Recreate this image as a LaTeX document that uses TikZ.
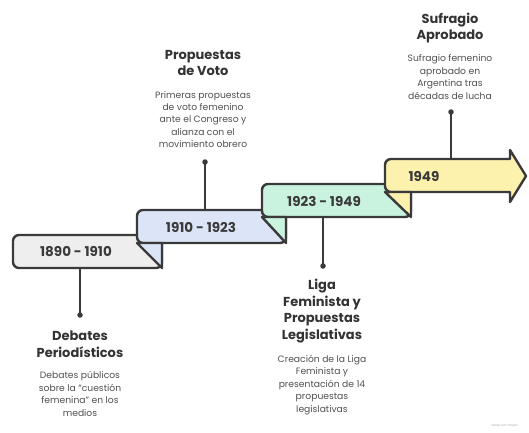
\documentclass[tikz,border=0pt]{standalone}
\usepackage{fontspec}
\setmainfont{Poppins}
\definecolor{ink}{HTML}{3A3A3A}
\definecolor{gfill}{HTML}{EEEEEE}
\definecolor{bfill}{HTML}{DCE5F8}
\definecolor{mfill}{HTML}{C9F3DF}
\definecolor{yfill}{HTML}{FDF1AE}
\definecolor{ttl}{HTML}{333333}
\definecolor{dsc}{HTML}{505050}
\begin{document}
\begin{tikzpicture}[x=1pt,y=-1pt,line join=round,
  boxline/.style={draw=ink,line width=2.4pt},
  stem/.style={draw=ink,line width=2.2pt},
  dot/.style={circle,fill=ink,inner sep=0pt,minimum size=5.5pt},
  boxlabel/.style={font=\fontsize{13.5}{15}\selectfont\bfseries,text=ink},
  ttlnode/.style={font=\fontsize{13}{16.5}\selectfont\bfseries,text=ttl,align=center},
  dscnode/.style={font=\fontsize{9.2}{12.4}\selectfont,text=dsc,align=center}]
\useasboundingbox (0,0) rectangle (529,432);
% step 1 (gray)
\draw[boxline,fill=gfill] (162,235) [rounded corners=6pt] -- (13,235) -- (13,268) -- (162,268) [sharp corners] -- cycle;
% step 2 (blue)
\draw[boxline,fill=bfill] (286,210) [rounded corners=6pt] -- (137,210) -- (137,243) -- (286,243) [sharp corners] -- cycle;
\draw[boxline,fill=bfill] (137,243) -- (162,268) -- (162,243) -- cycle;
% step 3 (green)
\draw[boxline,fill=mfill] (411,184) [rounded corners=6pt] -- (262,184) -- (262,217) -- (411,217) [sharp corners] -- cycle;
\draw[boxline,fill=mfill] (262,217) -- (286,243) -- (286,217) -- cycle;
% step 4 (yellow arrow)
\draw[boxline,fill=yfill] (510,159) -- (510,150) -- (526,176) -- (510,202) -- (510,192) [rounded corners=6pt] -- (385,192) -- (385,159) [sharp corners] -- cycle;
\draw[boxline,fill=yfill] (385,192) -- (411,217) -- (411,192) -- cycle;
% box labels
\node[boxlabel] (y1) at (76,252) {1890 - 1910};
\node[boxlabel] (y2) at (201,227) {1910 - 1923};
\node[boxlabel] (y3) at (324,201) {1923 - 1949};
\node[boxlabel] (y4) at (424,176) {1949};
% stems
\coordinate (s1) at (80,268);
\coordinate (s2) at (205,210);
\coordinate (s3) at (323,217);
\coordinate (s4) at (451,159);
\node[dot] (d1) at (80,315) {};
\node[dot] (d2) at (205,162) {};
\node[dot] (d3) at (323,266) {};
\node[dot] (d4) at (451,112) {};
\draw[stem] (s1) -- (d1.center);
\draw[stem] (s2) -- (d2.center);
\draw[stem] (s3) -- (d3.center);
\draw[stem] (s4) -- (d4.center);
% titles
\node[ttlnode] (t1) at (80,344) {Debates\\Periodísticos};
\node[ttlnode] (t2) at (203,63) {Propuestas\\de Voto};
\node[ttlnode] (t3) at (322,311) {Liga\\Feminista y\\Propuestas\\Legislativas};
\node[ttlnode] (t4) at (450,28) {Sufragio\\Aprobado};
% descriptions
\node[dscnode] (e1) at (80,394) {Debates públicos\\sobre la "cuestión\\femenina" en los\\medios};
\node[dscnode] (e2) at (203,119.5) {Primeras propuestas\\de voto femenino\\ante el Congreso y\\alianza con el\\movimiento obrero};
\node[dscnode] (e3) at (322,385) {Creación de la Liga\\Feminista y\\presentación de 14\\propuestas\\legislativas};
\node[dscnode] (e4) at (450,77) {Sufragio femenino\\aprobado en\\Argentina tras\\décadas de lucha};
\node[font=\fontsize{3}{3}\selectfont,text=gray!60] (wm) at (505,426) {Made with Napkin};
\end{tikzpicture}
\end{document}
